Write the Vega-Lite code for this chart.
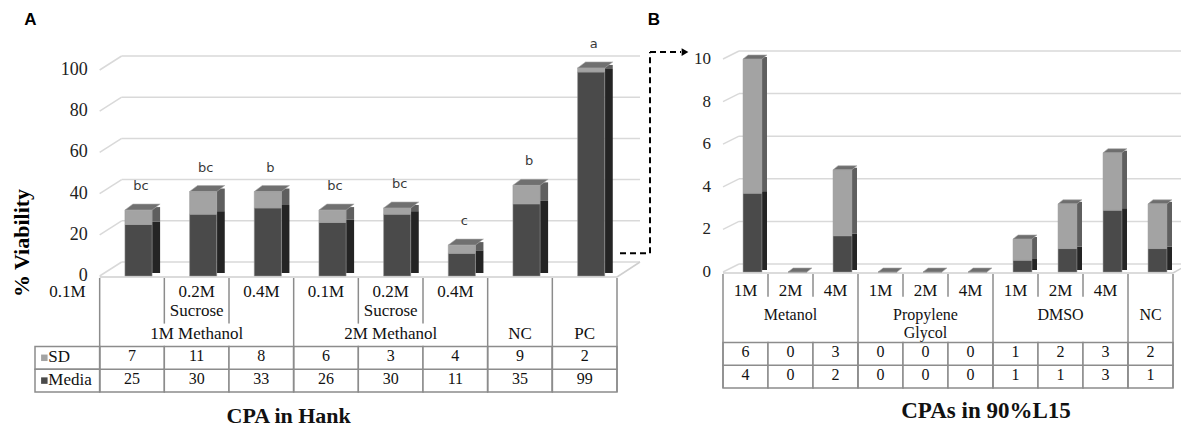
{
  "$schema": "https://vega.github.io/schema/vega-lite/v6.json",
  "width": 1181,
  "height": 429,
  "autosize": {"type": "none"},
  "padding": 0,
  "background": "white",
  "config": {"view": {"stroke": null}, "font": "Times New Roman"},
  "datasets": {
    "hank": [
      {"id": "1M Methanol 0.1M", "grp": "1M Methanol", "media": 25, "sd": 7, "letter": "bc"},
      {"id": "1M Methanol 0.2M Sucrose", "grp": "1M Methanol", "media": 30, "sd": 11, "letter": "bc"},
      {"id": "1M Methanol 0.4M", "grp": "1M Methanol", "media": 33, "sd": 8, "letter": "b"},
      {"id": "2M Methanol 0.1M", "grp": "2M Methanol", "media": 26, "sd": 6, "letter": "bc"},
      {"id": "2M Methanol 0.2M Sucrose", "grp": "2M Methanol", "media": 30, "sd": 3, "letter": "bc"},
      {"id": "2M Methanol 0.4M", "grp": "2M Methanol", "media": 11, "sd": 4, "letter": "c"},
      {"id": "NC", "grp": "NC", "media": 35, "sd": 9, "letter": "b"},
      {"id": "PC", "grp": "PC", "media": 99, "sd": 2, "letter": "a"}
    ],
    "hankHeader": [
      {"col": "legend", "row": "h1", "text": "0.1M"},
      {"col": "1M Methanol 0.2M Sucrose", "row": "h1", "text": "0.2M"},
      {"col": "1M Methanol 0.4M", "row": "h1", "text": "0.4M"},
      {"col": "2M Methanol 0.1M", "row": "h1", "text": "0.1M"},
      {"col": "2M Methanol 0.2M Sucrose", "row": "h1", "text": "0.2M"},
      {"col": "2M Methanol 0.4M", "row": "h1", "text": "0.4M"},
      {"col": "1M Methanol 0.2M Sucrose", "row": "h2", "text": "Sucrose"},
      {"col": "2M Methanol 0.2M Sucrose", "row": "h2", "text": "Sucrose"},
      {"col": "1M Methanol 0.2M Sucrose", "row": "h3", "text": "1M Methanol"},
      {"col": "2M Methanol 0.2M Sucrose", "row": "h3", "text": "2M Methanol"},
      {"col": "NC", "row": "h3", "text": "NC"},
      {"col": "PC", "row": "h3", "text": "PC"}
    ],
    "legendRows": [
      {"series": "sd", "label": "SD"},
      {"series": "media", "label": "Media"}
    ],
    "l15": [
      {"id": "Metanol 1M", "grp": "Metanol", "sub": "1M", "media": 3.7, "sd": 6.3},
      {"id": "Metanol 2M", "grp": "Metanol", "sub": "2M", "media": 0, "sd": 0},
      {"id": "Metanol 4M", "grp": "Metanol", "sub": "4M", "media": 1.7, "sd": 3.1},
      {"id": "Propylene Glycol 1M", "grp": "Propylene Glycol", "sub": "1M", "media": 0, "sd": 0},
      {"id": "Propylene Glycol 2M", "grp": "Propylene Glycol", "sub": "2M", "media": 0, "sd": 0},
      {"id": "Propylene Glycol 4M", "grp": "Propylene Glycol", "sub": "4M", "media": 0, "sd": 0},
      {"id": "DMSO 1M", "grp": "DMSO", "sub": "1M", "media": 0.55, "sd": 1.0},
      {"id": "DMSO 2M", "grp": "DMSO", "sub": "2M", "media": 1.1, "sd": 2.1},
      {"id": "DMSO 4M", "grp": "DMSO", "sub": "4M", "media": 2.9, "sd": 2.7},
      {"id": "NC", "grp": "NC", "sub": "", "media": 1.1, "sd": 2.1}
    ],
    "l15Groups": [
      {"col": "Metanol 2M", "text": "Metanol"},
      {"col": "Propylene Glycol 2M", "text": "Propylene\nGlycol"},
      {"col": "DMSO 2M", "text": "DMSO"},
      {"col": "NC", "text": "NC"}
    ],
    "ticksA": [{"v": 0}, {"v": 20}, {"v": 40}, {"v": 60}, {"v": 80}, {"v": 100}],
    "ticksB": [{"v": 0}, {"v": 2}, {"v": 4}, {"v": 6}, {"v": 8}, {"v": 10}]
  },
  "resolve": {"scale": {"x": "independent", "y": "independent"}},
  "layer": [
    {
      "data": {"name": "hank"},
      "transform": [
        {"fold": ["media", "sd"], "as": ["series", "val"]},
        {"stack": "val", "groupby": ["id"], "sort": [{"field": "series", "order": "ascending"}], "as": ["v0", "v1"]}
      ],
      "layer": [
        {
          "data": {"name": "ticksA"},
          "mark": {"type": "rule", "color": "#d9d9d9", "strokeWidth": 1.5, "xOffset": 22, "x2Offset": 23, "yOffset": -14},
          "encoding": {
            "x": {"datum": "1M Methanol 0.1M", "type": "nominal", "bandPosition": 0, "axis": null,
                  "scale": {"type": "band", "domain": ["legend", "1M Methanol 0.1M", "1M Methanol 0.2M Sucrose", "1M Methanol 0.4M", "2M Methanol 0.1M", "2M Methanol 0.2M Sucrose", "2M Methanol 0.4M", "NC", "PC"], "range": [35, 617], "paddingInner": 0, "paddingOuter": 0}},
            "x2": {"datum": "PC", "bandPosition": 1},
            "y": {"field": "v", "type": "quantitative", "axis": null, "scale": {"type": "linear", "domain": [0, 100], "range": [276, 70], "nice": false, "zero": false}}
          }
        },
        {
          "data": {"name": "ticksA"},
          "mark": {"type": "rule", "color": "#d9d9d9", "strokeWidth": 1.5, "x2Offset": 22, "y2Offset": -14},
          "encoding": {
            "x": {"datum": "1M Methanol 0.1M", "type": "nominal", "bandPosition": 0, "axis": null},
            "x2": {"datum": "1M Methanol 0.1M", "bandPosition": 0},
            "y": {"field": "v", "type": "quantitative", "axis": null},
            "y2": {"field": "v"}
          }
        },
        {
          "data": {"name": "ticksA"},
          "mark": {"type": "text", "align": "right", "baseline": "middle", "dx": -12, "font": "Times New Roman", "fontSize": 18, "color": "#222222"},
          "encoding": {
            "x": {"datum": "1M Methanol 0.1M", "type": "nominal", "bandPosition": 0, "axis": null},
            "y": {"field": "v", "type": "quantitative", "axis": null},
            "text": {"field": "v", "type": "quantitative"}
          }
        },
        {
          "data": {"values": [{}]},
          "mark": {"type": "rule", "color": "#cfcfcf", "strokeWidth": 1.5, "yOffset": 1},
          "encoding": {
            "x": {"datum": "1M Methanol 0.1M", "type": "nominal", "bandPosition": 0, "axis": null},
            "x2": {"datum": "PC", "bandPosition": 1},
            "y": {"datum": 0, "type": "quantitative", "axis": null}
          }
        },
        {
          "data": {"values": [{}]},
          "mark": {"type": "rule", "color": "#cfcfcf", "strokeWidth": 1.5, "yOffset": 1, "x2Offset": 23, "y2Offset": -14},
          "encoding": {
            "x": {"datum": "PC", "type": "nominal", "bandPosition": 1, "axis": null},
            "x2": {"datum": "PC", "bandPosition": 1},
            "y": {"datum": 0, "type": "quantitative", "axis": null},
            "y2": {"datum": 0}
          }
        },
        {
          "mark": {"type": "bar", "width": 8, "xOffset": 24.1, "yOffset": -3, "y2Offset": -3},
          "encoding": {
            "x": {"field": "id", "type": "nominal", "axis": null},
            "y": {"field": "v1", "type": "quantitative", "axis": null},
            "y2": {"field": "v0"},
            "color": {"condition": {"test": "datum.series === 'sd'", "value": "#5f5f5f"}, "value": "#242424"}
          }
        },
        {
          "mark": {"type": "bar", "width": {"band": 0.42}, "xOffset": 6.5, "stroke": "#9a9a9a", "strokeWidth": 0.5},
          "encoding": {
            "x": {"field": "id", "type": "nominal", "axis": null},
            "y": {"field": "v1", "type": "quantitative", "axis": null},
            "y2": {"field": "v0"},
            "color": {"condition": {"test": "datum.series === 'sd'", "value": "#a3a3a3"}, "value": "#4a4a4a"}
          }
        },
        {
          "transform": [{"filter": "datum.series === 'sd'"}],
          "mark": {"type": "point", "shape": "M-1,0.17L0.545,0.17L1,-0.17L-0.545,-0.17Z", "size": 1239, "filled": true, "opacity": 1, "fill": "#707070", "stroke": "#a9a9a9", "strokeWidth": 0.6, "xOffset": 10.5, "yOffset": -3},
          "encoding": {
            "x": {"field": "id", "type": "nominal", "axis": null},
            "y": {"field": "v1", "type": "quantitative", "axis": null}
          }
        },
        {
          "transform": [{"filter": "datum.series === 'sd'"}],
          "mark": {"type": "text", "dx": 9, "dy": -24, "font": "DejaVu Sans", "fontSize": 13, "color": "#3a3a3a", "baseline": "middle"},
          "encoding": {
            "x": {"field": "id", "type": "nominal", "axis": null},
            "y": {"field": "v1", "type": "quantitative", "axis": null},
            "text": {"field": "letter"}
          }
        },
        {
          "data": {"values": [{}]},
          "mark": {"type": "rule", "color": "#000000", "strokeWidth": 2, "strokeDash": [6, 4], "xOffset": 3, "x2Offset": 33},
          "encoding": {
            "x": {"datum": "PC", "type": "nominal", "bandPosition": 1, "axis": null},
            "x2": {"datum": "PC", "bandPosition": 1},
            "y": {"datum": 11, "type": "quantitative", "axis": null}
          }
        },
        {
          "data": {"values": [{}]},
          "mark": {"type": "rule", "color": "#000000", "strokeWidth": 2, "strokeDash": [6, 4], "xOffset": 33},
          "encoding": {
            "x": {"datum": "PC", "type": "nominal", "bandPosition": 1, "axis": null},
            "y": {"datum": 11, "type": "quantitative", "axis": null},
            "y2": {"datum": 108.7}
          }
        },
        {
          "data": {"values": [{}]},
          "mark": {"type": "rule", "color": "#000000", "strokeWidth": 2, "strokeDash": [6, 4], "xOffset": 33, "x2Offset": 64},
          "encoding": {
            "x": {"datum": "PC", "type": "nominal", "bandPosition": 1, "axis": null},
            "x2": {"datum": "PC", "bandPosition": 1},
            "y": {"datum": 108.7, "type": "quantitative", "axis": null}
          }
        },
        {
          "data": {"values": [{}]},
          "mark": {"type": "point", "shape": "triangle-right", "size": 60, "filled": true, "opacity": 1, "color": "#000000", "xOffset": 68},
          "encoding": {
            "x": {"datum": "PC", "type": "nominal", "bandPosition": 1, "axis": null},
            "y": {"datum": 108.7, "type": "quantitative", "axis": null}
          }
        },
        {
          "data": {"values": [{"t": "A"}]},
          "mark": {"type": "text", "font": "Liberation Sans", "fontWeight": "bold", "fontSize": 17, "baseline": "middle", "align": "center", "xOffset": -37, "yOffset": -50},
          "encoding": {
            "x": {"datum": "legend", "type": "nominal", "axis": null},
            "y": {"datum": 100, "type": "quantitative", "axis": null},
            "text": {"field": "t"}
          }
        },
        {
          "data": {"values": [{"t": "B"}]},
          "mark": {"type": "text", "font": "Liberation Sans", "fontWeight": "bold", "fontSize": 17, "baseline": "middle", "align": "center", "xOffset": 37, "yOffset": -50},
          "encoding": {
            "x": {"datum": "PC", "type": "nominal", "bandPosition": 1, "axis": null},
            "y": {"datum": 100, "type": "quantitative", "axis": null},
            "text": {"field": "t"}
          }
        },
        {
          "data": {"values": [{"t": "% Viability"}]},
          "mark": {"type": "text", "font": "Times New Roman", "fontWeight": "bold", "fontSize": 22, "angle": 270, "baseline": "middle", "align": "center", "xOffset": -45, "yOffset": -33},
          "encoding": {
            "x": {"datum": "legend", "type": "nominal", "axis": null},
            "y": {"datum": 0, "type": "quantitative", "axis": null},
            "text": {"field": "t"}
          }
        }
      ]
    },
    {
      "data": {"name": "hank"},
      "layer": [
        {
          "transform": [{"fold": ["media", "sd"], "as": ["series", "val"]}],
          "mark": {"type": "rect", "fill": "white", "stroke": "#8c8c8c", "strokeWidth": 1.5},
          "encoding": {
            "x": {"field": "id", "type": "nominal", "axis": null,
                  "scale": {"type": "band", "domain": ["legend", "1M Methanol 0.1M", "1M Methanol 0.2M Sucrose", "1M Methanol 0.4M", "2M Methanol 0.1M", "2M Methanol 0.2M Sucrose", "2M Methanol 0.4M", "NC", "PC"], "range": [35, 617], "paddingInner": 0, "paddingOuter": 0}},
            "y": {"field": "series", "type": "nominal", "axis": null,
                  "scale": {"type": "band", "domain": ["h1", "h2", "h3", "sd", "media"], "range": [278, 392], "paddingInner": 0, "paddingOuter": 0}}
          }
        },
        {
          "data": {"name": "legendRows"},
          "mark": {"type": "rect", "fill": "white", "stroke": "#8c8c8c", "strokeWidth": 1.5},
          "encoding": {
            "x": {"datum": "legend", "type": "nominal", "axis": null},
            "y": {"field": "series", "type": "nominal", "axis": null}
          }
        },
        {
          "data": {"name": "legendRows"},
          "mark": {"type": "point", "shape": "square", "size": 42, "filled": true, "opacity": 1, "xOffset": -23},
          "encoding": {
            "x": {"datum": "legend", "type": "nominal", "axis": null},
            "y": {"field": "series", "type": "nominal", "axis": null},
            "color": {"condition": {"test": "datum.series === 'sd'", "value": "#a3a3a3"}, "value": "#4a4a4a"}
          }
        },
        {
          "data": {"name": "legendRows"},
          "mark": {"type": "text", "align": "left", "baseline": "middle", "dx": -19, "dy": -1, "font": "Times New Roman", "fontSize": 17, "color": "#111111"},
          "encoding": {
            "x": {"datum": "legend", "type": "nominal", "axis": null},
            "y": {"field": "series", "type": "nominal", "axis": null},
            "text": {"field": "label"}
          }
        },
        {
          "transform": [{"fold": ["media", "sd"], "as": ["series", "val"]}],
          "mark": {"type": "text", "baseline": "middle", "dy": -2, "font": "Times New Roman", "fontSize": 16, "color": "#111111"},
          "encoding": {
            "x": {"field": "id", "type": "nominal", "axis": null},
            "y": {"field": "series", "type": "nominal", "axis": null},
            "text": {"field": "val", "type": "quantitative", "format": ".0f"}
          }
        },
        {
          "transform": [{"window": [{"op": "row_number", "as": "k"}], "groupby": ["grp"]}, {"filter": "datum.k === 1"}],
          "mark": {"type": "rule", "color": "#8c8c8c", "strokeWidth": 1.5},
          "encoding": {
            "x": {"field": "id", "type": "nominal", "bandPosition": 0, "axis": null},
            "y": {"datum": "h1", "type": "nominal", "bandPosition": 0, "axis": null},
            "y2": {"datum": "media", "bandPosition": 1}
          }
        },
        {
          "transform": [{"window": [{"op": "row_number", "as": "k"}], "groupby": ["grp"]}, {"filter": "datum.k > 1"}],
          "mark": {"type": "rule", "color": "#8c8c8c", "strokeWidth": 1.5},
          "encoding": {
            "x": {"field": "id", "type": "nominal", "bandPosition": 0, "axis": null},
            "y": {"datum": "h1", "type": "nominal", "bandPosition": 0, "axis": null},
            "y2": {"datum": "h2", "bandPosition": 1}
          }
        },
        {
          "data": {"values": [{}]},
          "mark": {"type": "rule", "color": "#8c8c8c", "strokeWidth": 1.5},
          "encoding": {
            "x": {"datum": "PC", "type": "nominal", "bandPosition": 1, "axis": null},
            "y": {"datum": "h1", "type": "nominal", "bandPosition": 0, "axis": null},
            "y2": {"datum": "media", "bandPosition": 1}
          }
        },
        {
          "data": {"name": "hankHeader"},
          "transform": [{"filter": "datum.row === 'h1'"}],
          "mark": {"type": "text", "baseline": "middle", "dy": 3, "font": "Times New Roman", "fontSize": 17, "color": "#111111"},
          "encoding": {
            "x": {"field": "col", "type": "nominal", "axis": null},
            "y": {"field": "row", "type": "nominal", "axis": null},
            "text": {"field": "text"}
          }
        },
        {
          "data": {"name": "hankHeader"},
          "transform": [{"filter": "datum.row !== 'h1'"}],
          "mark": {"type": "text", "baseline": "middle", "dy": -1, "font": "Times New Roman", "fontSize": 17, "color": "#111111"},
          "encoding": {
            "x": {"field": "col", "type": "nominal", "axis": null},
            "y": {"field": "row", "type": "nominal", "axis": null},
            "text": {"field": "text"}
          }
        },
        {
          "data": {"values": [{"t": "CPA in Hank"}]},
          "mark": {"type": "text", "baseline": "middle", "align": "center", "dx": -5, "dy": 24, "font": "Times New Roman", "fontWeight": "bold", "fontSize": 22, "color": "#111111"},
          "encoding": {
            "x": {"datum": "2M Methanol 0.1M", "type": "nominal", "bandPosition": 0, "axis": null},
            "y": {"datum": "media", "type": "nominal", "bandPosition": 1, "axis": null},
            "text": {"field": "t"}
          }
        }
      ]
    },
    {
      "data": {"name": "l15"},
      "transform": [
        {"fold": ["media", "sd"], "as": ["series", "val"]},
        {"stack": "val", "groupby": ["id"], "sort": [{"field": "series", "order": "ascending"}], "as": ["v0", "v1"]}
      ],
      "layer": [
        {
          "data": {"name": "ticksB"},
          "mark": {"type": "rule", "color": "#d9d9d9", "strokeWidth": 1.5, "xOffset": 16, "x2Offset": 16, "yOffset": -8},
          "encoding": {
            "x": {"datum": "Metanol 1M", "type": "nominal", "bandPosition": 0, "axis": null,
                  "scale": {"type": "band", "domain": ["Metanol 1M", "Metanol 2M", "Metanol 4M", "Propylene Glycol 1M", "Propylene Glycol 2M", "Propylene Glycol 4M", "DMSO 1M", "DMSO 2M", "DMSO 4M", "NC"], "range": [723, 1173], "paddingInner": 0, "paddingOuter": 0}},
            "x2": {"datum": "NC", "bandPosition": 1},
            "y": {"field": "v", "type": "quantitative", "axis": null, "scale": {"type": "linear", "domain": [0, 10], "range": [272, 59], "nice": false, "zero": false}}
          }
        },
        {
          "data": {"name": "ticksB"},
          "mark": {"type": "rule", "color": "#d9d9d9", "strokeWidth": 1.5, "x2Offset": 16, "y2Offset": -8},
          "encoding": {
            "x": {"datum": "Metanol 1M", "type": "nominal", "bandPosition": 0, "axis": null},
            "x2": {"datum": "Metanol 1M", "bandPosition": 0},
            "y": {"field": "v", "type": "quantitative", "axis": null},
            "y2": {"field": "v"}
          }
        },
        {
          "data": {"name": "ticksB"},
          "mark": {"type": "text", "align": "right", "baseline": "middle", "dx": -12, "font": "Times New Roman", "fontSize": 17, "color": "#222222"},
          "encoding": {
            "x": {"datum": "Metanol 1M", "type": "nominal", "bandPosition": 0, "axis": null},
            "y": {"field": "v", "type": "quantitative", "axis": null},
            "text": {"field": "v", "type": "quantitative"}
          }
        },
        {
          "data": {"values": [{}]},
          "mark": {"type": "rule", "color": "#cfcfcf", "strokeWidth": 1.5, "yOffset": 1},
          "encoding": {
            "x": {"datum": "Metanol 1M", "type": "nominal", "bandPosition": 0, "axis": null},
            "x2": {"datum": "NC", "bandPosition": 1},
            "y": {"datum": 0, "type": "quantitative", "axis": null}
          }
        },
        {
          "data": {"values": [{}]},
          "mark": {"type": "rule", "color": "#cfcfcf", "strokeWidth": 1.5, "yOffset": 1, "x2Offset": 16, "y2Offset": -8},
          "encoding": {
            "x": {"datum": "NC", "type": "nominal", "bandPosition": 1, "axis": null},
            "x2": {"datum": "NC", "bandPosition": 1},
            "y": {"datum": 0, "type": "quantitative", "axis": null},
            "y2": {"datum": 0}
          }
        },
        {
          "mark": {"type": "bar", "width": 5, "xOffset": 19, "yOffset": -2, "y2Offset": -2},
          "encoding": {
            "x": {"field": "id", "type": "nominal", "axis": null},
            "y": {"field": "v1", "type": "quantitative", "axis": null},
            "y2": {"field": "v0"},
            "color": {"condition": {"test": "datum.series === 'sd'", "value": "#5f5f5f"}, "value": "#242424"}
          }
        },
        {
          "mark": {"type": "bar", "width": {"band": 0.42}, "xOffset": 7, "stroke": "#9a9a9a", "strokeWidth": 0.5},
          "encoding": {
            "x": {"field": "id", "type": "nominal", "axis": null},
            "y": {"field": "v1", "type": "quantitative", "axis": null},
            "y2": {"field": "v0"},
            "color": {"condition": {"test": "datum.series === 'sd'", "value": "#a3a3a3"}, "value": "#4a4a4a"}
          }
        },
        {
          "transform": [{"filter": "datum.series === 'sd'"}],
          "mark": {"type": "point", "shape": "M-1,0.17L0.58,0.17L1,-0.17L-0.58,-0.17Z", "size": 571, "filled": true, "opacity": 1, "fill": "#6e6e6e", "stroke": "#a9a9a9", "strokeWidth": 0.6, "xOffset": 9.5, "yOffset": -2},
          "encoding": {
            "x": {"field": "id", "type": "nominal", "axis": null},
            "y": {"field": "v1", "type": "quantitative", "axis": null}
          }
        }
      ]
    },
    {
      "data": {"name": "l15"},
      "layer": [
        {
          "transform": [{"fold": ["media", "sd"], "as": ["series", "val"]}],
          "mark": {"type": "rect", "fill": "white", "stroke": "#8c8c8c", "strokeWidth": 1.5},
          "encoding": {
            "x": {"field": "id", "type": "nominal", "axis": null,
                  "scale": {"type": "band", "domain": ["Metanol 1M", "Metanol 2M", "Metanol 4M", "Propylene Glycol 1M", "Propylene Glycol 2M", "Propylene Glycol 4M", "DMSO 1M", "DMSO 2M", "DMSO 4M", "NC"], "range": [723, 1173], "paddingInner": 0, "paddingOuter": 0}},
            "y": {"field": "series", "type": "nominal", "axis": null,
                  "scale": {"type": "band", "domain": ["h1", "h2", "h3", "sd", "media"], "range": [274, 388], "paddingInner": 0, "paddingOuter": 0}}
          }
        },
        {
          "transform": [{"fold": ["media", "sd"], "as": ["series", "val"]}],
          "mark": {"type": "text", "baseline": "middle", "dy": -2, "font": "Times New Roman", "fontSize": 16, "color": "#111111"},
          "encoding": {
            "x": {"field": "id", "type": "nominal", "axis": null},
            "y": {"field": "series", "type": "nominal", "axis": null},
            "text": {"field": "val", "type": "quantitative", "format": ".0f"}
          }
        },
        {
          "transform": [{"window": [{"op": "row_number", "as": "k"}], "groupby": ["grp"]}, {"filter": "datum.k === 1"}],
          "mark": {"type": "rule", "color": "#8c8c8c", "strokeWidth": 1.5},
          "encoding": {
            "x": {"field": "id", "type": "nominal", "bandPosition": 0, "axis": null},
            "y": {"datum": "h1", "type": "nominal", "bandPosition": 0, "axis": null},
            "y2": {"datum": "media", "bandPosition": 1}
          }
        },
        {
          "transform": [{"window": [{"op": "row_number", "as": "k"}], "groupby": ["grp"]}, {"filter": "datum.k > 1"}],
          "mark": {"type": "rule", "color": "#8c8c8c", "strokeWidth": 1.5},
          "encoding": {
            "x": {"field": "id", "type": "nominal", "bandPosition": 0, "axis": null},
            "y": {"datum": "h1", "type": "nominal", "bandPosition": 0, "axis": null},
            "y2": {"datum": "h1", "bandPosition": 1}
          }
        },
        {
          "data": {"values": [{}]},
          "mark": {"type": "rule", "color": "#8c8c8c", "strokeWidth": 1.5},
          "encoding": {
            "x": {"datum": "NC", "type": "nominal", "bandPosition": 1, "axis": null},
            "y": {"datum": "h1", "type": "nominal", "bandPosition": 0, "axis": null},
            "y2": {"datum": "media", "bandPosition": 1}
          }
        },
        {
          "mark": {"type": "text", "baseline": "middle", "dy": 6, "font": "Times New Roman", "fontSize": 17, "color": "#111111"},
          "encoding": {
            "x": {"field": "id", "type": "nominal", "axis": null},
            "y": {"datum": "h1", "type": "nominal", "axis": null},
            "text": {"field": "sub"}
          }
        },
        {
          "data": {"name": "l15Groups"},
          "mark": {"type": "text", "baseline": "top", "lineBreak": "\n", "lineHeight": 18, "dy": -1, "font": "Times New Roman", "fontSize": 16, "color": "#111111"},
          "encoding": {
            "x": {"field": "col", "type": "nominal", "axis": null},
            "y": {"datum": "h2", "type": "nominal", "axis": null},
            "text": {"field": "text"}
          }
        },
        {
          "data": {"values": [{"t": "CPAs in 90%L15"}]},
          "mark": {"type": "text", "baseline": "middle", "align": "center", "dx": -7, "dy": 23, "font": "Times New Roman", "fontWeight": "bold", "fontSize": 23, "color": "#111111"},
          "encoding": {
            "x": {"datum": "DMSO 1M", "type": "nominal", "bandPosition": 0, "axis": null},
            "y": {"datum": "media", "type": "nominal", "bandPosition": 1, "axis": null},
            "text": {"field": "t"}
          }
        }
      ]
    }
  ]
}
